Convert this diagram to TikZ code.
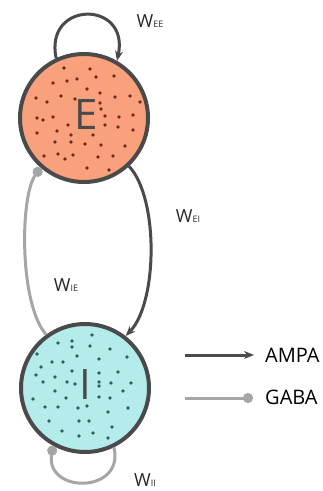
\documentclass[tikz,border=0pt]{standalone}
\usepackage{fontspec}
\setmainfont{Open Sans}
\usetikzlibrary{arrows.meta}
\definecolor{efill}{HTML}{F9A07D}
\definecolor{ifill}{HTML}{B3ECEA}
\definecolor{edot}{HTML}{6B2C1A}
\definecolor{idot}{HTML}{2F5F5F}
\definecolor{rim}{HTML}{4A4A4A}
\definecolor{gaba}{HTML}{A6A6A6}
\tikzset{
  pop/.style={circle, draw=rim, line width=4pt, minimum size=128pt, inner sep=0pt},
  poplab/.style={font=\fontsize{42}{42}\selectfont, text=rim, inner sep=0pt},
  ampa/.style={draw=rim, line width=3pt, -{Stealth[length=10pt,width=8pt]}},
  gabaline/.style={draw=gaba, line width=3pt, -{Circle[length=10pt]}},
  wlab/.style={font=\fontsize{18}{18}\selectfont, text=black!85, inner sep=0pt},
  legtext/.style={font=\fontsize{20}{20}\selectfont, text=black, anchor=west, inner sep=0pt},
}
\newcommand{\wsub}[1]{W{\fontsize{9}{9}\selectfont #1}}
\begin{document}
\begin{tikzpicture}[x=1pt,y=-1pt]
\useasboundingbox (0,0) rectangle (323,491);
\node[pop, fill=efill] (E) at (84,118) {};
\node[pop, fill=ifill] (I) at (85,388) {};
\foreach \x/\y in {64/68,90/69,53/83,67/81,77/79,96/77,114/76,87/89,100/93,36/98,47/102,61/96,75/99,100/103,115/97,130/96,140/102,101/109,37/118,43/120,53/117,105/116,119/117,133/115,37/133,57/131,68/125,105/125,118/127,133/130,71/135,93/135,55/142,71/142,85/144,101/145,125/146,44/156,58/154,65/159,73/155,98/157,113/156,87/168,109/170}
  \fill[edot] (\x,\y) circle[radius=1.8pt];
\foreach \x/\y in {92/335,58/343,72/341,72/347,90/346,110/349,37/354,77/356,99/359,127/357,52/362,63/362,41/367,99/373,72/371,118/372,36/375,55/377,43/382,67/382,75/384,99/382,111/383,131/383,55/391,99/386,123/391,33/399,66/398,99/397,110/398,45/407,58/407,78/408,87/406,108/412,128/408,49/421,79/421,89/421,62/431,79/436,93/433,112/427,108/438}
  \fill[idot] (\x,\y) circle[radius=1.8pt];
\node[poplab] (Elab) at (86,115) {E};
\node[poplab] (Ilab) at (85,385) {I};
% connectors
\draw[ampa] (E.115) .. controls (44,0) and (130,0) .. (E.60);
\draw[ampa] (E.-47) .. controls +(30,32) and +(32,-33) .. (I.52);
\draw[gabaline] (I.126) .. controls +(-27,-30) and +(-21,28) .. (E.-131);
\draw[gabaline] (I.-64) .. controls (125,494) and (45,494) .. (I.-119);
% labels
\node[wlab] (wee) at (150,21) {\wsub{EE}};
\node[wlab] (wei) at (188,216) {\wsub{EI}};
\node[wlab] (wie) at (66,285) {\wsub{IE}};
\node[wlab] (wii) at (145,480) {\wsub{II}};
% legend
\coordinate (a1) at (185,355);
\coordinate (a2) at (254,355);
\coordinate (g1) at (185,398);
\coordinate (g2) at (253,398);
\draw[ampa] (a1) -- (a2);
\draw[gabaline] (g1) -- (g2);
\node[legtext] (ampatext) at (265,355) {AMPA};
\node[legtext] (gabatext) at (265,397) {GABA};
\end{tikzpicture}
\end{document}
